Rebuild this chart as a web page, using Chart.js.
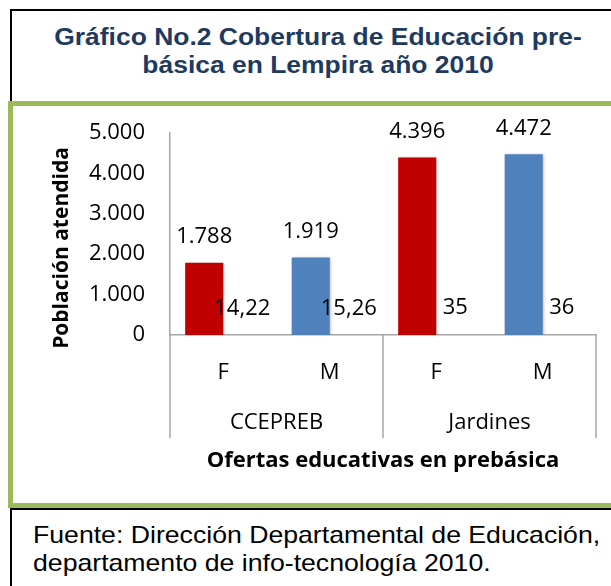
<!DOCTYPE html>
<html>
<head>
<meta charset="utf-8">
<script src="https://cdn.jsdelivr.net/npm/chart.js@4"></script>
<style>
  body { margin: 0; width: 611px; height: 586px; overflow: hidden; background: #fff; position: relative; }
  .box { position: absolute; box-sizing: border-box; background: #fff; }
  #titleBox { left: 10px; top: 9px; width: 640px; height: 100px; border: 2px solid #000; }
  #chartBox { left: 8px; top: 101px; width: 640px; height: 407px; border: 5px solid #9BBB59; }
  #footBox { left: 10px; top: 508px; width: 640px; height: 100px; border: 2px solid #000; }
  .title { position: absolute; left: 0; width: 636px; text-align: center; font: bold 23px "Liberation Sans", Arial, sans-serif;
           color: #1F3A60; line-height: 28px; transform: scaleX(1.15); transform-origin: 318px 0; }
  .foot { position: absolute; left: 33px; font: 24px "Liberation Sans", Arial, sans-serif; color: #000;
          line-height: 28px; white-space: nowrap; transform: scaleX(1.11); transform-origin: 0 0; }
  canvas { position: absolute; left: 0; top: 0; }
</style>
</head>
<body>
<div class="box" id="titleBox"></div>
<div class="title" style="top:23px">Gráfico No.2 Cobertura de Educación pre-<br>básica en Lempira año 2010</div>
<div class="box" id="chartBox"></div>
<div class="box" id="footBox"></div>
<div class="foot" style="top:521px">Fuente: Dirección Departamental de Educación,<br>departamento de info-tecnología 2010.</div>
<canvas id="chart" width="611" height="586"></canvas>
<script>
// Datos del gráfico
const categories = ['F', 'M', 'F', 'M'];
const groups = ['CCEPREB', 'Jardines'];
const poblacion = [1788, 1919, 4396, 4472];
const porcentaje = [14.22, 15.26, 35, 36];
const yTicks = [0, 1000, 2000, 3000, 4000, 5000];

const barColors = ['#C00000', '#4F81BD', '#C00000', '#4F81BD'];
const FONT = '"Open Sans", sans-serif';

// 1788 -> "1.788", 14.22 -> "14,22"
function fmtMiles(v) {
    return String(v).replace(/\B(?=(\d{3})+(?!\d))/g, '.');
}
function fmtDecimal(v) {
    return String(v).replace('.', ',');
}

// Sombra suave en las barras
const shadowPlugin = {
    id: 'shadow',
    beforeDatasetsDraw(chart) {
        const ctx = chart.ctx;
        ctx.save();
        ctx.shadowColor = 'rgba(0,0,0,0.3)';
        ctx.shadowBlur = 3;
        ctx.shadowOffsetX = 1;
        ctx.shadowOffsetY = 1;
    },
    afterDatasetsDraw(chart) {
        chart.ctx.restore();
    }
};

// Etiquetas de valores, grupos, separadores y título del eje Y
const labelsPlugin = {
    id: 'labels',
    afterDraw(chart) {
        const ctx = chart.ctx;
        const area = chart.chartArea;
        const x = chart.scales.x;
        ctx.save();
        ctx.fillStyle = '#000';
        ctx.textAlign = 'center';
        ctx.textBaseline = 'middle';
        ctx.font = '22px ' + FONT;
        chart.data.datasets.forEach((ds, i) => {
            chart.getDatasetMeta(i).data.forEach((bar, j) => {
                const txt = i === 0 ? fmtMiles(ds.data[j]) : fmtDecimal(ds.data[j]);
                ctx.fillText(txt, bar.x, bar.y - 26);
            });
        });

        // separadores de grupos
        const bounds = [area.left, (x.getPixelForValue(1) + x.getPixelForValue(2)) / 2, area.right];
        ctx.strokeStyle = '#A6A6A6';
        ctx.lineWidth = 1.5;
        bounds.forEach(b => {
            ctx.beginPath();
            ctx.moveTo(b, area.bottom);
            ctx.lineTo(b, 438);
            ctx.stroke();
        });

        // nombres de grupos
        groups.forEach((g, k) => {
            ctx.fillText(g, (bounds[k] + bounds[k + 1]) / 2, 423);
        });

        ctx.font = 'bold 22px ' + FONT;
        ctx.fillText('Ofertas educativas en prebásica', (area.left + area.right) / 2, 461);

        ctx.font = 'bold 21px ' + FONT;
        ctx.translate(62, 248);
        ctx.rotate(-Math.PI / 2);
        ctx.fillText('Población atendida', 0, 0);
        ctx.restore();
    }
};

new Chart(document.getElementById('chart'), {
    type: 'bar',
    data: {
        labels: categories,
        datasets: [{
            label: 'Población',
            data: poblacion,
            backgroundColor: barColors
        }, {
            // barras casi nulas en la escala de población; sólo se ven sus etiquetas
            label: 'Porcentaje',
            data: porcentaje,
            backgroundColor: 'rgba(0,0,0,0)'
        }]
    },
    options: {
        responsive: false,
        animation: false,
        devicePixelRatio: 1,
        categoryPercentage: 0.715,
        barPercentage: 1,
        layout: { padding: { left: 0, top: 133, right: 15, bottom: 0 } },
        plugins: {
            legend: { display: false },
            tooltip: { enabled: false }
        },
        scales: {
            x: {
                grid: { display: false, drawTicks: false },
                border: { display: true, color: '#A6A6A6', width: 1.5 },
                ticks: { color: '#000', font: { family: FONT, size: 22 }, padding: 25 },
                afterFit(scale) { scale.height = 251; }
            },
            y: {
                min: 0,
                max: 5000,
                afterBuildTicks(scale) { scale.ticks = yTicks.map(v => ({ value: v })); },
                grid: { display: false, drawTicks: false },
                border: { display: true, color: '#A6A6A6', width: 1.5 },
                ticks: {
                    color: '#000',
                    font: { family: FONT, size: 22 },
                    padding: 25,
                    callback: v => fmtMiles(v)
                },
                afterFit(scale) { scale.width = 170; }
            }
        }
    },
    plugins: [shadowPlugin, labelsPlugin]
});
</script>
</body>
</html>
